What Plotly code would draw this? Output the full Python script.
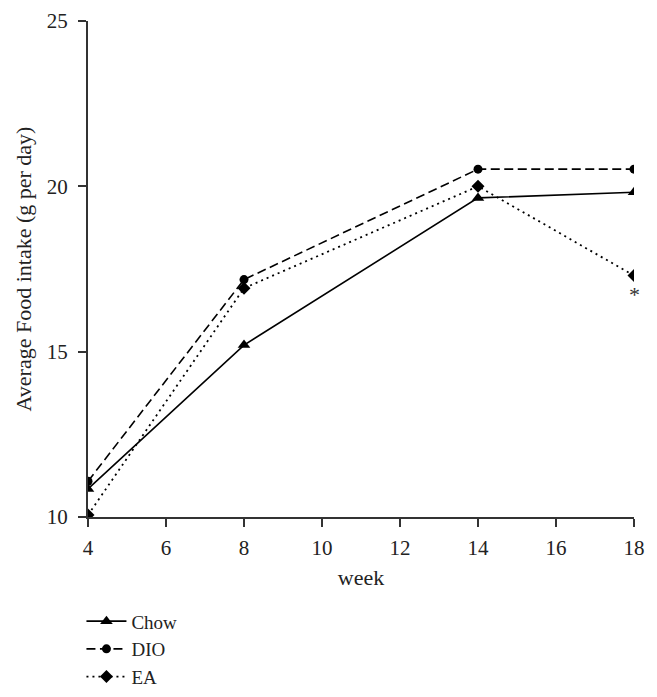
import plotly.graph_objects as go

weeks = [4, 8, 14, 18]
chow = [10.85, 15.2, 19.65, 19.82]
dio = [11.08, 17.18, 20.52, 20.52]
ea = [10.06, 16.92, 20.0, 17.3]

font_family = "Liberation Serif, DejaVu Serif, serif"

fig = go.Figure()
fig.add_trace(go.Scatter(x=weeks, y=chow, name="Chow", mode="lines+markers",
                         line=dict(color="black", width=1.6, dash="solid"),
                         marker=dict(symbol="triangle-up", size=11, color="black")))
fig.add_trace(go.Scatter(x=weeks, y=dio, name="DIO", mode="lines+markers",
                         line=dict(color="black", width=1.6, dash="9px,4.5px"),
                         marker=dict(symbol="circle", size=9, color="black")))
fig.add_trace(go.Scatter(x=weeks, y=ea, name="EA", mode="lines+markers",
                         line=dict(color="black", width=1.8, dash="2px,4px"),
                         marker=dict(symbol="diamond", size=10, color="black")))

fig.add_annotation(x=18, y=16.72, text="*", showarrow=False,
                   font=dict(family=font_family, size=22, color="#333"))

fig.update_layout(
    width=657, height=697,
    margin=dict(l=80, r=31, t=13, b=188, autoexpand=False),
    paper_bgcolor="white", plot_bgcolor="white",
    font=dict(family=font_family, size=21, color="#222"),
    showlegend=True,
    legend=dict(x=-0.012, y=-0.172, xanchor="left", yanchor="top",
                font=dict(size=19), tracegroupgap=0, itemwidth=40,
                bgcolor="rgba(0,0,0,0)"),
    xaxis=dict(range=[4, 18], tickvals=[4, 6, 8, 10, 12, 14, 16, 18],
               showline=True, linecolor="#333", linewidth=2,
               ticks="outside", ticklen=8, tickwidth=2, tickcolor="#333",
               showgrid=False, zeroline=False, automargin=False,
               ticklabelstandoff=3,
               title=dict(text="week", standoff=10, font=dict(size=22)),
               tickfont=dict(size=21)),
    yaxis=dict(range=[10, 25], tickvals=[10, 15, 20, 25],
               showline=True, linecolor="#333", linewidth=2,
               ticks="outside", ticklen=8, tickwidth=2, tickcolor="#333",
               showgrid=False, zeroline=False, automargin=False,
               ticklabelstandoff=6,
               title=dict(text="Average Food intake (g per day)", standoff=9,
                          font=dict(size=22)),
               tickfont=dict(size=21)),
)

fig.write_html("out.html")
